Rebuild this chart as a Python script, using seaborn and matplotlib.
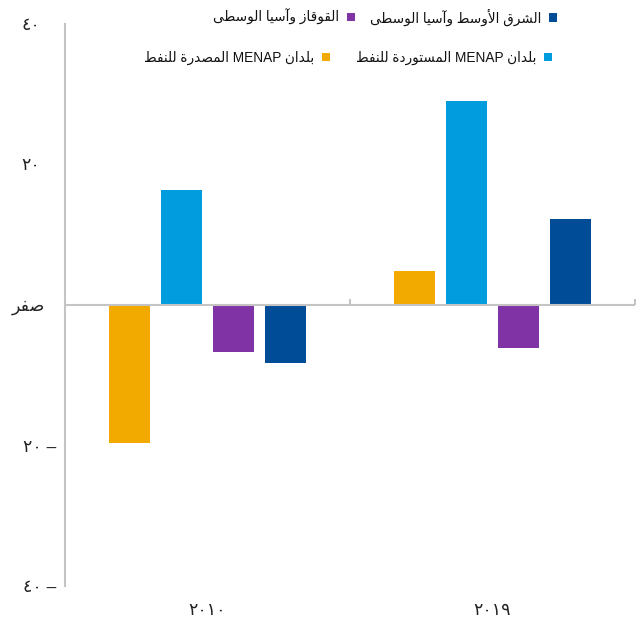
import re
import numpy as np
import pandas as pd
import matplotlib
matplotlib.use("Agg")
import matplotlib.pyplot as plt
import matplotlib.transforms as mtransforms
from matplotlib.patches import Patch
import seaborn as sns

# ---------------- data ----------------
years = ["٢٠١٠", "٢٠١٩"]
series = [
    "بلدان MENAP المصدرة للنفط",
    "بلدان MENAP المستوردة للنفط",
    "القوقاز وآسيا الوسطى",
    "الشرق الأوسط وآسيا الوسطى",
]
exporters = [-19.7, 4.8]
importers = [16.3, 29.0]
cca_vals = [-6.7, -6.1]
meca_vals = [-8.2, 12.2]
colors = ["#F2A900", "#009CDE", "#7F33A5", "#004C97"]
ytick_vals = [40, 20, 0, -20, -40]
ytick_labels = ["٤٠", "٢٠", "صفر", "٢٠ –", "٤٠ –"]

# ---------------- Arabic shaping (presentation forms + visual order) ----------------
DUAL = {'ب': 0xFE8F, 'ت': 0xFE95, 'ث': 0xFE99, 'ج': 0xFE9D, 'ح': 0xFEA1, 'خ': 0xFEA5,
        'س': 0xFEB1, 'ش': 0xFEB5, 'ص': 0xFEB9, 'ض': 0xFEBD, 'ط': 0xFEC1, 'ظ': 0xFEC5,
        'ع': 0xFEC9, 'غ': 0xFECD, 'ف': 0xFED1, 'ق': 0xFED5, 'ك': 0xFED9, 'ل': 0xFEDD,
        'م': 0xFEE1, 'ن': 0xFEE5, 'ه': 0xFEE9, 'ي': 0xFEF1, 'ئ': 0xFE89}
RIGHT = {'ا': 0xFE8D, 'أ': 0xFE83, 'آ': 0xFE81, 'إ': 0xFE87, 'د': 0xFEA9, 'ذ': 0xFEAB,
         'ر': 0xFEAD, 'ز': 0xFEAF, 'و': 0xFEED, 'ة': 0xFE93, 'ى': 0xFEEF, 'ؤ': 0xFE85}
LAM_ALEF = {'ا': 0xFEFB, 'أ': 0xFEF7, 'إ': 0xFEF9, 'آ': 0xFEF5}


def shape(s):
    items = []
    i = 0
    while i < len(s):
        c = s[i]
        if c == 'ل' and i + 1 < len(s) and s[i + 1] in LAM_ALEF:
            items.append(('LA', s[i + 1]))
            i += 2
        else:
            items.append(('C', c))
            i += 1

    def jl(it):
        return it[0] == 'C' and it[1] in DUAL

    def jr(it):
        return it[0] == 'LA' or it[1] in DUAL or it[1] in RIGHT

    out = []
    for j, it in enumerate(items):
        prev = items[j - 1] if j > 0 else None
        nxt = items[j + 1] if j + 1 < len(items) else None
        cp = prev is not None and jl(prev) and jr(it)
        cn = nxt is not None and jl(it) and jr(nxt)
        k, c = it
        if k == 'LA':
            out.append(chr(LAM_ALEF[c] + (1 if cp else 0)))
        elif c in DUAL:
            out.append(chr(DUAL[c] + (3 if (cp and cn) else 1 if cp else 2 if cn else 0)))
        elif c in RIGHT:
            out.append(chr(RIGHT[c] + (1 if cp else 0)))
        else:
            out.append(c)
    return ''.join(out)


def rtl(s):
    if not re.search('[\u0621-\u064A]', s):
        return s
    v = shape(s)[::-1]
    return re.sub(r'[A-Za-z0-9\u0660-\u0669]+', lambda m: m.group(0)[::-1], v)


# ---------------- figure ----------------
sns.set_theme(style="white")
plt.rcParams['font.family'] = ['Liberation Sans', 'DejaVu Sans']

W, H = 636, 621
fig = plt.figure(figsize=(W / 100, H / 100), dpi=100)
ax = fig.add_axes([65 / W, 1 - 586 / H, (635 - 65) / W, (586 - 24) / H])

df = pd.DataFrame({
    "year": years * 4,
    "series": [s for s in series for _ in years],
    "value": exporters + importers + cca_vals + meca_vals,
})

sns.barplot(data=df, x="year", y="value", hue="series", hue_order=series,
            order=years, palette=colors, saturation=1, width=0.73, gap=0.23,
            legend=False, ax=ax, linewidth=0)

ax.set_xlim(-0.5, 1.5)
ax.set_ylim(-40, 40)
ax.set_xlabel("")
ax.set_ylabel("")

gray = "#c4c4c4"
ax.axhline(0, color=gray, lw=1.5, zorder=5)
ax.vlines([0.5, 1.5], 0, 0.9, color=gray, lw=1.5, zorder=5, clip_on=False)

for sp in ["top", "right", "bottom"]:
    ax.spines[sp].set_visible(False)
ax.spines["left"].set_color(gray)
ax.spines["left"].set_linewidth(1.5)

ax.set_yticks(ytick_vals, [rtl(t) for t in ytick_labels])
ax.tick_params(axis="y", length=0, pad=6.5, labelsize=12.5, labelcolor="#222222")
ax.set_xticks(range(len(years)), [rtl(y) for y in years])
ax.tick_params(axis="x", length=0, pad=12, labelsize=12.5, labelcolor="#222222")

# shift the y tick labels individually (px) to match the original alignment
y_shift_px = [-16, -16, -11, 0, 0]
for lab, dx in zip(ax.get_yticklabels(), y_shift_px):
    lab.set_transform(lab.get_transform() +
                      mtransforms.ScaledTranslation(dx / 100, 0, fig.dpi_scale_trans))

# legend, right-to-left, one entry per slot
leg_pos = [  # (series index, right edge x px, center y px)
    (3, 557, 17), (2, 355, 17),
    (1, 552, 58), (0, 330, 58),
]
for idx, xr, yc in leg_pos:
    h = Patch(facecolor=colors[idx], edgecolor="none")
    lg = fig.legend([h], [rtl(series[idx])], loc="center right",
                    bbox_to_anchor=(xr / W, 1 - yc / H), frameon=False,
                    markerfirst=False, borderpad=0, borderaxespad=0,
                    handlelength=0.59, handleheight=0.59, handletextpad=0.55,
                    fontsize=9.8)
    for t in lg.get_texts():
        t.set_color("#111111")

fig.savefig("out.png", dpi=100)
